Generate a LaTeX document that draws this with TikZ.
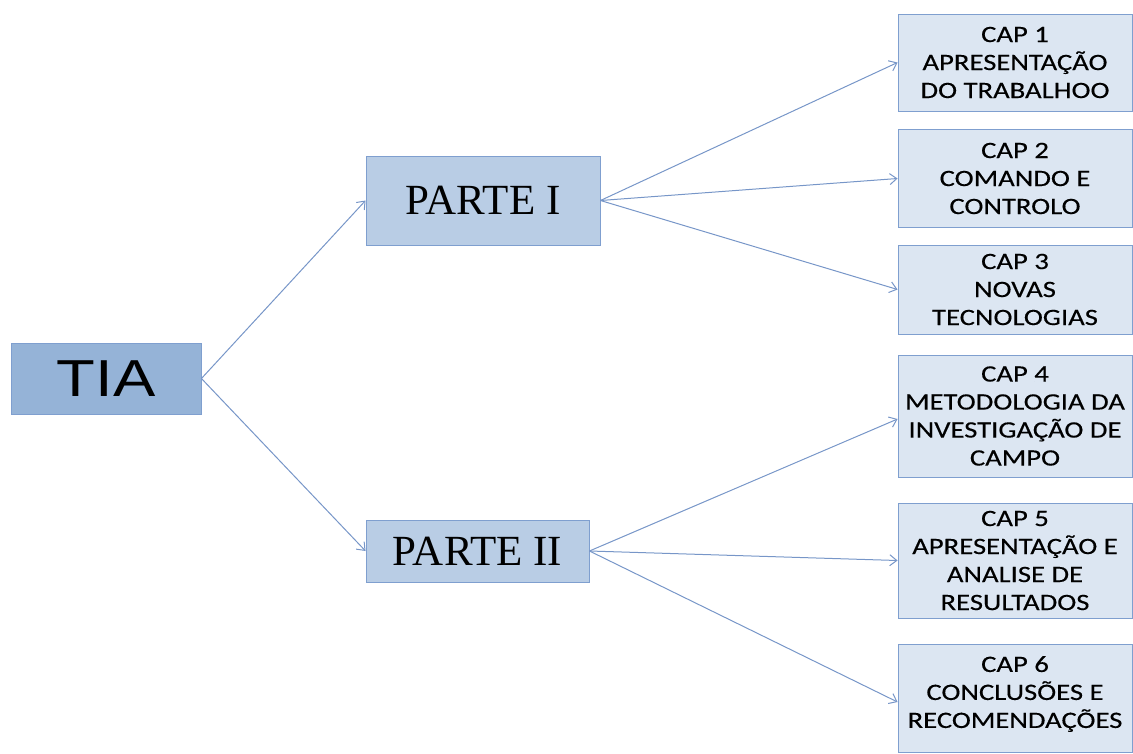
\documentclass[tikz,border=0pt]{standalone}
\usepackage{fontspec}
\setmainfont{Liberation Serif}
\newfontfamily\tiafont[FakeStretch=1.22]{Liberation Sans}
\newfontfamily\capfont[FakeStretch=1.22,FakeBold=0.3]{Carlito}
\usetikzlibrary{arrows.meta}
\definecolor{boxline}{HTML}{7F9FCF}
\definecolor{linkcol}{HTML}{7796C8}
\definecolor{tiafill}{HTML}{95B3D7}
\definecolor{partefill}{HTML}{B9CDE5}
\definecolor{capfill}{HTML}{DCE6F2}
\begin{document}
\begin{tikzpicture}[x=1pt,y=-1pt,
  box/.style={draw=boxline, line width=0.9pt, inner sep=0pt, align=center},
  tiabox/.style={box, fill=tiafill, font=\tiafont\fontsize{52}{60}\selectfont},
  partebox/.style={box, fill=partefill, font=\fontsize{43}{50}\selectfont},
  capbox/.style={box, fill=capfill, minimum width=234pt, font=\capfont\fontsize{23.5}{28}\selectfont},
  link/.style={draw=linkcol, line width=1pt, -{Straight Barb[length=7pt,width=11pt]}}
]
\useasboundingbox (0,0) rectangle (1133,753);
\node[tiabox, minimum width=190pt, minimum height=71pt] (tia) at (106,378.5) {TIA};
\node[partebox, minimum width=234pt, minimum height=89pt] (p1) at (483,200.5) {PARTE I};
\node[partebox, minimum width=223pt, minimum height=62pt] (p2) at (477.5,551) {PARTE II};
\node[capbox, minimum height=97pt] (c1) at (1015,62.5) {CAP 1\\APRESENTAÇÃO\\DO TRABALHOO};
\node[capbox, minimum height=98pt] (c2) at (1015,178.5) {CAP 2\\COMANDO E\\CONTROLO};
\node[capbox, minimum height=89pt] (c3) at (1015,289.5) {CAP 3\\NOVAS\\TECNOLOGIAS};
\node[capbox, minimum height=122pt] (c4) at (1015,416) {CAP 4\\METODOLOGIA DA\\INVESTIGAÇÃO DE\\CAMPO};
\node[capbox, minimum height=115pt] (c5) at (1015,560.5) {CAP 5\\APRESENTAÇÃO E\\ANALISE DE\\RESULTADOS};
\node[capbox, minimum height=108pt] (c6) at (1015,698) {CAP 6\\CONCLUSÕES E\\RECOMENDAÇÕES\\[-16pt]};
\draw[link] (tia.east) -- (p1.west);
\draw[link] (tia.east) -- (p2.west);
\draw[link] (p1.east) -- (c1.west);
\draw[link] (p1.east) -- (c2.west);
\draw[link] (p1.east) -- (c3.west);
\draw[link] (p2.east) -- ([yshift=-3pt]c4.west);
\draw[link] (p2.east) -- (c5.west);
\draw[link] (p2.east) -- ([yshift=-4pt]c6.west);
\end{tikzpicture}
\end{document}
